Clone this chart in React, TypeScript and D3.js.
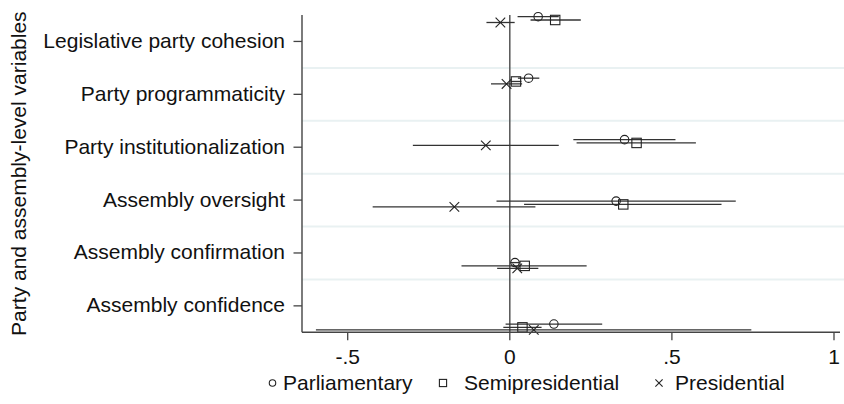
import React from 'react';
import * as d3 from 'd3';

const categories = [
  'Legislative party cohesion',
  'Party programmaticity',
  'Party institutionalization',
  'Assembly oversight',
  'Assembly confirmation',
  'Assembly confidence',
];

const seriesNames = ['Parliamentary', 'Semipresidential', 'Presidential'];

const parlEst = [0.0875, 0.058, 0.354, 0.328, 0.016, 0.136];
const parlLo = [0.024, 0.025, 0.196, -0.041, 0.002, -0.013];
const parlHi = [0.151, 0.091, 0.511, 0.697, 0.03, 0.285];

const semiEst = [0.14, 0.019, 0.391, 0.35, 0.046, 0.039];
const semiLo = [0.064, 0.002, 0.206, 0.044, -0.149, -0.02];
const semiHi = [0.219, 0.036, 0.574, 0.653, 0.237, 0.098];

const presEst = [-0.029, -0.01, -0.074, -0.171, 0.023, 0.074];
const presLo = [-0.072, -0.058, -0.299, -0.423, -0.039, -0.598];
const presHi = [0.015, 0.038, 0.151, 0.079, 0.088, 0.745];

const xTicks = [-0.5, 0, 0.5, 1];
const xTickLabels = ['-.5', '0', '.5', '1'];

const yTitle = 'Party and assembly-level variables';

const FONT = "'Liberation Sans', Arial, Helvetica, sans-serif";
const INK = '#333333';

function Marker({ kind, cx, cy, s }: { kind: number; cx: number; cy: number; s: number }) {
  if (kind === 0) {
    return <circle cx={cx} cy={cy} r={s * 0.9} fill="none" stroke="#222" strokeWidth={1.1} />;
  }
  if (kind === 1) {
    return (
      <rect x={cx - s} y={cy - s} width={2 * s} height={2 * s} fill="none" stroke="#222" strokeWidth={1.1} />
    );
  }
  return (
    <g stroke="#222" strokeWidth={1.1}>
      <line x1={cx - s} y1={cy - s} x2={cx + s} y2={cy + s} />
      <line x1={cx - s} y1={cy + s} x2={cx + s} y2={cy - s} />
    </g>
  );
}

export default function App() {
  const W = 844;
  const H = 404;
  const plotL = 302;
  const plotR = 840;
  const plotT = 15;
  const plotB = 332.3;

  const x = d3.scaleLinear().domain([-0.5, 1]).range([347.7, 834]);
  const y = d3.scaleLinear().domain([0.5, 6.5]).range([plotT, plotB]);
  const catPos = d3
    .scalePoint<string>()
    .domain(categories)
    .range([1, 6]);
  const markPos = d3
    .scalePoint<string>()
    .domain(categories)
    .range([0.532, 6.344]);
  const offsets = [0, 3.3, 5.8];

  const series = [
    { est: parlEst, lo: parlLo, hi: parlHi },
    { est: semiEst, lo: semiLo, hi: semiHi },
    { est: presEst, lo: presLo, hi: presHi },
  ];

  const gridVals = d3.range(1.5, 6, 1);

  const legendItems = [
    { sym: 272.5, text: 283 },
    { sym: 443, text: 464 },
    { sym: 659, text: 675 },
  ];
  const legendBase = 390;

  return (
    <svg
      width={W}
      height={H}
      viewBox={`0 0 ${W} ${H}`}
      style={{ position: 'absolute', left: 0, top: 0, background: '#fff' }}
      fontFamily={FONT}
    >
      <rect x={0} y={0} width={W} height={H} fill="#fff" />
      {/* gridlines */}
      {gridVals.map((g) => (
        <line key={g} x1={plotL} x2={W} y1={y(g)} y2={y(g)} stroke="#e9f1f2" strokeWidth={2} />
      ))}
      {/* zero line */}
      <line x1={x(0)} x2={x(0)} y1={plotT} y2={plotB} stroke="#555" strokeWidth={1.5} />

      {/* CIs and markers */}
      {series.map((s, si) => (
        <g key={si}>
          {categories.map((c, i) => {
            const cy = y(markPos(c) as number) + offsets[si];
            return (
              <line key={c} x1={x(s.lo[i])} x2={x(s.hi[i])} y1={cy} y2={cy} stroke={INK} strokeWidth={1.3} />
            );
          })}
        </g>
      ))}
      {series.map((s, si) => (
        <g key={'m' + si}>
          {categories.map((c, i) => {
            const cy = y(markPos(c) as number) + offsets[si];
            return <Marker key={c} kind={si} cx={x(s.est[i])} cy={cy} s={si === 2 ? 4.8 : 4.7} />;
          })}
        </g>
      ))}

      {/* axes */}
      <line x1={plotL} x2={plotL} y1={plotT} y2={plotB} stroke="#444" strokeWidth={1.4} />
      <line x1={plotL} x2={plotR} y1={plotB} y2={plotB} stroke="#444" strokeWidth={1.4} />

      {/* y ticks & labels */}
      {categories.map((c) => {
        const ty = y(catPos(c) as number);
        return (
          <g key={c}>
            <line x1={plotL - 8.5} x2={plotL} y1={ty} y2={ty} stroke="#444" strokeWidth={1.3} />
            <text x={plotL - 17} y={ty + 6.5} textAnchor="end" fontSize={21} fill="#111">
              {c}
            </text>
          </g>
        );
      })}

      {/* x ticks & labels */}
      {xTicks.map((t, i) => (
        <g key={t}>
          <line x1={x(t)} x2={x(t)} y1={plotB} y2={plotB + 8} stroke="#444" strokeWidth={1.3} />
          <text x={x(t)} y={364} textAnchor="middle" fontSize={21} fill="#111">
            {xTickLabels[i]}
          </text>
        </g>
      ))}

      {/* y title */}
      <text
        transform={`translate(26, ${(plotT + plotB) / 2}) rotate(-90)`}
        textAnchor="middle"
        fontSize={21}
        fill="#111"
      >
        {yTitle}
      </text>

      {/* legend */}
      {seriesNames.map((n, i) => (
        <g key={n}>
          <Marker kind={i} cx={legendItems[i].sym} cy={legendBase - 7} s={3.6} />
          <text x={legendItems[i].text} y={legendBase} fontSize={21} fill="#111">
            {n}
          </text>
        </g>
      ))}
    </svg>
  );
}
